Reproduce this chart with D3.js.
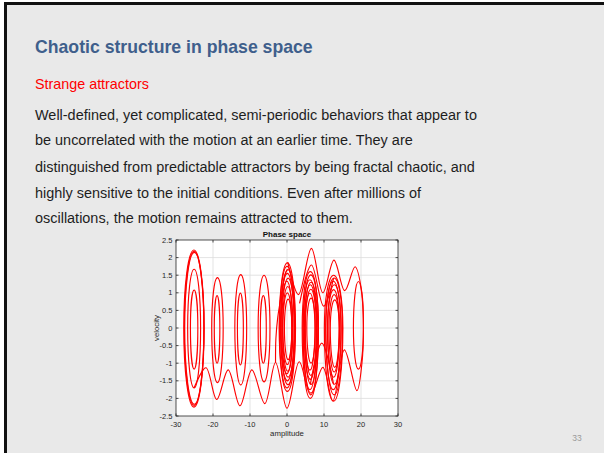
<!DOCTYPE html>
<html>
<head>
<meta charset="utf-8">
<script src="https://cdn.jsdelivr.net/npm/d3@7"></script>
<style>
  html, body { margin: 0; padding: 0; background: #ffffff; overflow: hidden; }
  svg { display: block; }
</style>
</head>
<body>
<svg id="slide" width="604" height="453"></svg>
<script>
// ---------- slide text ----------
const slideTitle = "Chaotic structure in phase space";
const slideSubtitle = "Strange attractors";
const bodyLines = [
  "Well-defined, yet complicated, semi-periodic behaviors that appear to",
  "be uncorrelated with the motion at an earlier time. They are",
  "distinguished from predictable attractors by being fractal chaotic, and",
  "highly sensitive to the initial conditions. Even after millions of",
  "oscillations, the motion remains attracted to them."
];
const pageNumber = "33";

// ---------- chart axes ----------
const chartTitle = "Phase space";
const xLabel = "amplitude";
const yLabel = "velocity";
const xDomain = [-30, 30];
const yDomain = [-2.5, 2.5];
const xTicks = [-30, -20, -10, 0, 10, 20, 30];
const yTicks = [-2.5, -2, -1.5, -1, -0.5, 0, 0.5, 1, 1.5, 2, 2.5];

// ---------- trapped orbits: one closed loop per entry ----------
// centre (amplitude), half-width (amplitude), peak velocity, trough velocity
const loopCenter = [
  -25.1, -25.15, -25.05, -25.1, -25.1,
  -18.8, -18.9,
  -12.5, -12.6,
  -6.2, -6.4,
  0.1, 0.0, 0.25, 0.1, 0.3, -0.05, 0.2, 0.1, 0.3,
  6.3, 6.45, 6.2, 6.5, 6.3, 6.45, 6.2, 6.5,
  12.6, 12.75, 12.5, 12.8, 12.6, 12.75, 12.9,
  19.3
];
const loopHalfWidth = [
  2.65, 2.75, 2.6, 1.75, 1.0,
  1.55, 0.75,
  1.6, 0.8,
  1.6, 0.8,
  2.2, 2.05, 1.95, 1.85, 1.7, 1.55, 1.4, 1.2, 1.0,
  2.2, 2.05, 1.9, 1.8, 1.65, 1.5, 1.35, 1.15,
  2.5, 2.25, 2.05, 1.85, 1.6, 1.4, 1.2,
  1.35
];
const loopPeak = [
  2.18, 2.22, 2.15, 1.67, 1.08,
  1.43, 0.92,
  1.52, 0.99,
  1.5, 0.92,
  1.85, 1.75, 1.66, 1.55, 1.42, 1.33, 1.18, 1.0, 0.82,
  1.6, 1.51, 1.37, 1.3, 1.23, 1.1, 0.99, 0.85,
  1.5, 1.42, 1.33, 1.23, 1.09, 0.95, 0.8,
  1.32
];
const loopTrough = [
  -2.2, -2.25, -2.17, -1.7, -1.17,
  -1.55, -1.0,
  -1.62, -1.05,
  -1.53, -1.0,
  -1.8, -1.7, -1.61, -1.5, -1.4, -1.3, -1.23, -1.04, -0.9,
  -2.0, -1.85, -1.75, -1.6, -1.46, -1.35, -1.2, -1.0,
  -2.08, -1.9, -1.75, -1.6, -1.4, -1.25, -1.12,
  -1.17
];

// ---------- running orbits: turning points (amplitude, velocity) ----------
const runningOrbitA = [
  [0.2, 1.87], [3.1, 0.95], [6.6, 2.26], [9.7, 1.0], [12.7, 1.93], [15.6, 1.06],
  [18.4, 1.74], [20.25, 1.0], [20.65, 0], [20.25, -1.0], [18.9, -1.78],
  [15.5, -0.62], [12.4, -2.07], [9.7, -1.12], [6.4, -1.9], [3.3, -0.96],
  [0.0, -2.28], [-3.1, -0.98], [-6.0, -2.15], [-9.5, -1.19], [-12.7, -2.21],
  [-15.9, -1.19], [-19.0, -2.03], [-21.9, -1.13], [-25.1, -1.7]
];
const runningOrbitB = [
  [3.4, 0.7], [6.6, 1.79], [9.9, 0.62], [12.6, 1.42]
];
const runningOrbitC = [
  [6.3, -1.6], [9.4, -0.43], [12.6, -1.6]
];
const runningOrbitD = [
  [-3.1, -0.98], [-3.0, -0.3], [-2.5, 0.3], [-1.6, 0.9], [-0.6, 1.5], [0.1, 1.66]
];
const runningOrbits = [runningOrbitA, runningOrbitB, runningOrbitC, runningOrbitD];

// ---------- drawing ----------
const svg = d3.select("#slide");
const W = 604, H = 453;
const font = "'Liberation Sans', Arial, Helvetica, sans-serif";

// slide frame
svg.append("rect").attr("x", 4).attr("y", 2).attr("width", W - 4).attr("height", H - 2)
  .attr("fill", "#e9e9e9");
svg.append("rect").attr("x", 4).attr("y", 2).attr("width", W - 4).attr("height", 3)
  .attr("fill", "#111111");
svg.append("rect").attr("x", 4).attr("y", 2).attr("width", 3).attr("height", H - 2)
  .attr("fill", "#111111");

// text sized to a target line width
function fittedText(str, x, y, size, width, attrs) {
  const t = svg.append("text").attr("x", x).attr("y", y)
    .attr("font-family", font).attr("font-size", size).text(str);
  Object.entries(attrs || {}).forEach(([k, v]) => t.attr(k, v));
  const len = t.node().getComputedTextLength();
  t.attr("font-size", size * width / len);
  return t;
}

fittedText(slideTitle, 35, 52.5, 20, 278, { "font-weight": "bold", fill: "#3f5f8c" });
fittedText(slideSubtitle, 35, 89, 16, 114, { fill: "#ff0000" });

const bodyBaselines = [120, 145, 172, 198, 223];
const body0 = fittedText(bodyLines[0], 35, bodyBaselines[0], 16, 442, { fill: "#1e1e1e" });
const bodySize = +body0.attr("font-size");
bodyLines.slice(1).forEach((line, i) => {
  svg.append("text").attr("x", 35).attr("y", bodyBaselines[i + 1])
    .attr("font-family", font).attr("font-size", bodySize).attr("fill", "#1e1e1e")
    .text(line);
});

svg.append("text").attr("x", 577).attr("y", 441).attr("text-anchor", "middle")
  .attr("font-family", font).attr("font-size", 8.5).attr("fill", "#9a9a9a").text(pageNumber);

// chart
const plot = { left: 176, right: 398, top: 240, bottom: 416 };
const x = d3.scaleLinear().domain(xDomain).range([plot.left, plot.right]);
const y = d3.scaleLinear().domain(yDomain).range([plot.bottom, plot.top]);

svg.append("rect").attr("x", plot.left).attr("y", plot.top)
  .attr("width", plot.right - plot.left).attr("height", plot.bottom - plot.top)
  .attr("fill", "#ffffff");

// grid
const grid = svg.append("g").attr("stroke", "#dcdcdc").attr("stroke-width", 0.8);
xTicks.slice(1, -1).forEach(t => grid.append("line")
  .attr("x1", x(t)).attr("x2", x(t)).attr("y1", plot.top).attr("y2", plot.bottom));
yTicks.slice(1, -1).forEach(t => grid.append("line")
  .attr("x1", plot.left).attr("x2", plot.right).attr("y1", y(t)).attr("y2", y(t)));

// trajectory
svg.append("clipPath").attr("id", "plotClip").append("rect")
  .attr("x", plot.left).attr("y", plot.top)
  .attr("width", plot.right - plot.left).attr("height", plot.bottom - plot.top);
const traj = svg.append("g").attr("clip-path", "url(#plotClip)")
  .attr("fill", "none").attr("stroke", "#ff0000").attr("stroke-width", 1.15);

const loops = loopCenter.map((c, i) => ({
  c, hw: loopHalfWidth[i], top: loopPeak[i], bot: loopTrough[i]
}));
traj.selectAll("path.loop").data(loops).join("path").attr("class", "loop")
  .attr("d", d => {
    const xl = x(d.c - d.hw), xr = x(d.c + d.hw), y0 = y(0);
    const rx = (xr - xl) / 2;
    const ryTop = y0 - y(d.top), ryBot = y(d.bot) - y0;
    return `M${xl},${y0}A${rx},${ryTop} 0 0 1 ${xr},${y0}A${rx},${ryBot} 0 0 1 ${xl},${y0}Z`;
  });

const line = d3.line().x(d => x(d[0])).y(d => y(d[1])).curve(d3.curveCatmullRom.alpha(0.5));
traj.selectAll("path.run").data(runningOrbits).join("path").attr("class", "run")
  .attr("d", line);

// axes box
const axisColor = "#262626";
const axes = svg.append("g").attr("stroke", axisColor).attr("stroke-width", 0.8).attr("fill", "none");
axes.append("rect").attr("x", plot.left).attr("y", plot.top)
  .attr("width", plot.right - plot.left).attr("height", plot.bottom - plot.top);
const tickLen = 2.5;
xTicks.forEach(t => {
  axes.append("line").attr("x1", x(t)).attr("x2", x(t)).attr("y1", plot.bottom).attr("y2", plot.bottom - tickLen);
  axes.append("line").attr("x1", x(t)).attr("x2", x(t)).attr("y1", plot.top).attr("y2", plot.top + tickLen);
});
yTicks.forEach(t => {
  axes.append("line").attr("x1", plot.left).attr("x2", plot.left + tickLen).attr("y1", y(t)).attr("y2", y(t));
  axes.append("line").attr("x1", plot.right).attr("x2", plot.right - tickLen).attr("y1", y(t)).attr("y2", y(t));
});

// tick labels
const tickFont = 7.5;
svg.append("g").selectAll("text").data(xTicks).join("text")
  .attr("x", d => x(d)).attr("y", plot.bottom + 11)
  .attr("text-anchor", "middle").attr("font-family", font).attr("font-size", tickFont)
  .attr("fill", axisColor).text(d => d);
svg.append("g").selectAll("text").data(yTicks).join("text")
  .attr("x", plot.left - 3.5).attr("y", d => y(d)).attr("dy", "0.35em")
  .attr("text-anchor", "end").attr("font-family", font).attr("font-size", tickFont)
  .attr("fill", axisColor).text(d => d);

// labels
svg.append("text").attr("x", (plot.left + plot.right) / 2).attr("y", 436)
  .attr("text-anchor", "middle").attr("font-family", font).attr("font-size", 7.8)
  .attr("fill", axisColor).text(xLabel);
svg.append("text").attr("transform", `translate(159,${(plot.top + plot.bottom) / 2}) rotate(-90)`)
  .attr("text-anchor", "middle").attr("font-family", font).attr("font-size", 7.8)
  .attr("fill", axisColor).text(yLabel);
svg.append("text").attr("x", (plot.left + plot.right) / 2).attr("y", 237)
  .attr("text-anchor", "middle").attr("font-family", font).attr("font-size", 8)
  .attr("font-weight", "bold").attr("fill", "#111111").text(chartTitle);
</script>
</body>
</html>
